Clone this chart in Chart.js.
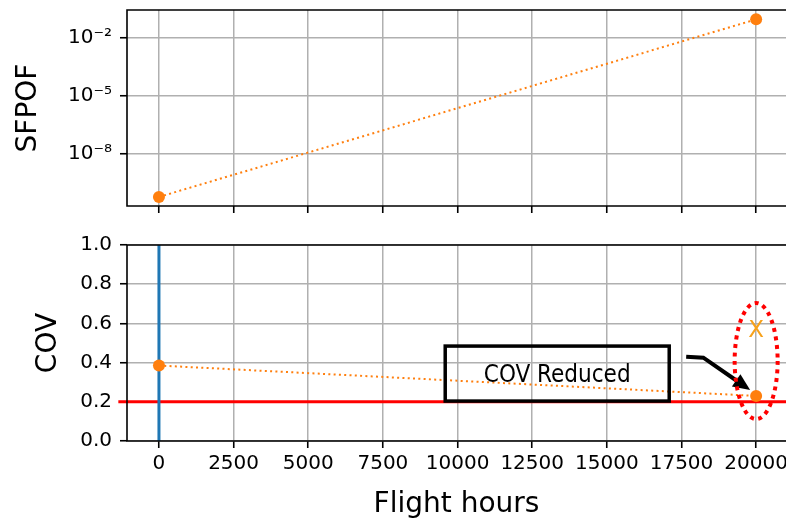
<!DOCTYPE html>
<html>
<head>
<meta charset="utf-8">
<script src="https://cdn.jsdelivr.net/npm/chart.js@4.4.0/dist/chart.umd.min.js"></script>
<style>
  html, body { margin: 0; padding: 0; background: #fff; }
  #wrap { position: relative; width: 786px; height: 522px; overflow: hidden; }
  canvas { position: absolute; left: 0; top: 0; }
</style>
</head>
<body>
<div id="wrap">
  <canvas id="sfpofChart" width="786" height="522"></canvas>
  <canvas id="covChart" width="786" height="522"></canvas>
</div>
<script>
// ---- data ----
const hours = [0, 20000];
const sfpof = [5.8e-11, 8.9e-2];
const cov = [0.385, 0.23];
const covLimit = 0.2;
const inspectionHour = 0;
const updatedCov = 0.564;          // COV estimate marked with "X" at 20000 h
const hourTicks = [0, 2500, 5000, 7500, 10000, 12500, 15000, 17500, 20000];
const sfpofTicks = [1e-8, 1e-5, 1e-2];
const covTicks = [0, 0.2, 0.4, 0.6, 0.8, 1.0];

// annotation anchors (data units)
const noteAt = { x: 13338, y: 0.344 };
const arrowPath = [{ x: 17657, y: 0.430 }, { x: 18232, y: 0.425 }, { x: 19799, y: 0.260 }];
const ringAt = { x: 20000, y: 0.408, rx: 720, ry: 0.296 };

const ORANGE = '#ff7f0e';
const BLUE = '#1f77b4';
const GRID = '#b0b0b0';
const FONT = '"DejaVu Sans", sans-serif';

const SUP = { '-': '\u207B', '0': '\u2070', '1': '\u00B9', '2': '\u00B2', '3': '\u00B3',
  '4': '\u2074', '5': '\u2075', '6': '\u2076', '7': '\u2077', '8': '\u2078', '9': '\u2079' };
const powLabel = v => '10' + String(Math.round(Math.log10(v))).split('').map(c => SUP[c]).join('');

const xLo = -1070, xHi = 21000;

const frame = {
  id: 'frame',
  afterDraw(chart) {
    const { ctx, chartArea: a } = chart;
    ctx.save();
    ctx.strokeStyle = '#000';
    ctx.lineWidth = 1.6;
    ctx.beginPath();
    ctx.moveTo(a.right + 2, a.top);
    ctx.lineTo(a.left, a.top);
    ctx.lineTo(a.left, a.bottom);
    ctx.lineTo(a.right + 2, a.bottom);
    ctx.stroke();
    ctx.restore();
  }
};

function gridOpts() {
  return { color: GRID, lineWidth: 1.5, tickColor: '#000', tickWidth: 1.6, tickLength: 7 };
}

function xAxis(showLabels, height) {
  return {
    type: 'linear', min: xLo, max: xHi,
    grid: gridOpts(),
    border: { display: false },
    afterBuildTicks: s => { s.ticks = hourTicks.map(v => ({ value: v })); },
    afterFit: s => { s.height = height; s.paddingLeft = 0; s.paddingRight = 0; },
    ticks: { display: showLabels, color: '#000', padding: 4, maxRotation: 0,
      font: { family: FONT, size: 20 }, callback: v => String(v) },
    title: showLabels ? { display: true, text: 'Flight hours', color: '#000',
      font: { family: FONT, size: 28 }, padding: { top: 0, bottom: 0 } } : { display: false }
  };
}

function yTitle(text, pad) {
  return { display: true, text, color: '#000', font: { family: FONT, size: 28 }, padding: { top: pad, bottom: 0 } };
}

// ---- top panel: SFPOF (log scale) ----
new Chart(document.getElementById('sfpofChart'), {
  type: 'scatter',
  data: {
    datasets: [{
      data: hours.map((h, i) => ({ x: h, y: sfpof[i] })),
      showLine: true, borderColor: ORANGE, backgroundColor: ORANGE,
      borderWidth: 2, borderDash: [2, 3.3], pointRadius: 6, pointBorderWidth: 0
    }]
  },
  options: {
    responsive: false, animation: false,
    layout: { autoPadding: false, padding: { top: 10, left: 0, right: 0, bottom: 0 } },
    plugins: { legend: { display: false }, tooltip: { enabled: false } },
    scales: {
      x: xAxis(false, 522 - 206),
      y: {
        type: 'logarithmic', min: Math.pow(10, -10.705), max: Math.pow(10, -0.567),
        grid: gridOpts(), border: { display: false },
        afterBuildTicks: s => { s.ticks = sfpofTicks.map(v => ({ value: v })); },
        afterFit: s => { s.width = 127; s.paddingTop = 0; s.paddingBottom = 0; },
        ticks: { color: '#000', padding: 8, font: { family: FONT, size: 20 }, callback: v => powLabel(v) },
        title: yTitle('SFPOF', 12)
      }
    }
  },
  plugins: [frame]
});

// ---- bottom panel: COV ----
const notes = {
  id: 'notes',
  afterDatasetsDraw(chart) {
    const { ctx, scales: { x, y } } = chart;
    ctx.save();

    // callout box with text
    const bx = x.getPixelForValue(noteAt.x), by = y.getPixelForValue(noteAt.y);
    ctx.lineWidth = 3.5;
    ctx.strokeStyle = '#000';
    ctx.strokeRect(bx - 112, by - 27.5, 224, 55);
    ctx.fillStyle = '#000';
    ctx.font = '24px "DejaVu Sans Condensed", "DejaVu Sans", sans-serif';
    ctx.textAlign = 'center';
    ctx.textBaseline = 'middle';
    ctx.fillText('COV Reduced', bx, by + 2);

    // bent arrow toward the reduced COV point
    const pts = arrowPath.map(p => [x.getPixelForValue(p.x), y.getPixelForValue(p.y)]);
    const [tx, ty] = pts[2], [qx, qy] = pts[1];
    const len = Math.hypot(tx - qx, ty - qy), ux = (tx - qx) / len, uy = (ty - qy) / len;
    const headL = 17, headW = 7.5;
    const baseX = tx - ux * headL, baseY = ty - uy * headL;
    ctx.lineWidth = 4;
    ctx.lineJoin = 'miter';
    ctx.beginPath();
    ctx.moveTo(pts[0][0], pts[0][1]);
    ctx.lineTo(qx, qy);
    ctx.lineTo(baseX + ux * 2, baseY + uy * 2);
    ctx.stroke();
    ctx.beginPath();
    ctx.moveTo(tx, ty);
    ctx.lineTo(baseX - uy * headW, baseY + ux * headW);
    ctx.lineTo(baseX + uy * headW, baseY - ux * headW);
    ctx.closePath();
    ctx.fill();

    // dotted ring around the 20000 h estimates
    const ex = x.getPixelForValue(ringAt.x), ey = y.getPixelForValue(ringAt.y);
    const rx = Math.abs(x.getPixelForValue(ringAt.x + ringAt.rx) - ex);
    const ry = Math.abs(y.getPixelForValue(ringAt.y + ringAt.ry) - ey);
    ctx.beginPath();
    ctx.ellipse(ex, ey, rx, ry, 0, 0, Math.PI * 2);
    ctx.setLineDash([4, 4.5]);
    ctx.lineWidth = 4;
    ctx.lineCap = 'butt';
    ctx.strokeStyle = '#ff0000';
    ctx.stroke();
    ctx.setLineDash([]);

    // "X" marker for the updated COV
    ctx.fillStyle = '#f7a11a';
    ctx.font = '23px "DejaVu Sans", sans-serif';
    ctx.fillText('X', x.getPixelForValue(hours[1]), y.getPixelForValue(updatedCov) + 1);

    ctx.restore();
  }
};

new Chart(document.getElementById('covChart'), {
  type: 'scatter',
  data: {
    datasets: [
      {
        data: hours.map((h, i) => ({ x: h, y: cov[i] })),
        showLine: true, borderColor: ORANGE, backgroundColor: ORANGE,
        borderWidth: 2, borderDash: [2, 3.3], pointRadius: 6, pointBorderWidth: 0
      },
      {
        data: [{ x: inspectionHour, y: 0 }, { x: inspectionHour, y: 1 }],
        showLine: true, borderColor: BLUE, borderWidth: 3, pointRadius: 0
      },
      {
        data: [{ x: -1360, y: covLimit }, { x: xHi, y: covLimit }],
        showLine: true, borderColor: '#ff0000', borderWidth: 3, pointRadius: 0, clip: false
      }
    ]
  },
  options: {
    responsive: false, animation: false,
    layout: { autoPadding: false, padding: { top: 245, left: 0, right: 0, bottom: 0 } },
    plugins: { legend: { display: false }, tooltip: { enabled: false } },
    scales: {
      x: xAxis(true, 522 - 441),
      y: {
        type: 'linear', min: 0, max: 1,
        grid: gridOpts(), border: { display: false },
        afterBuildTicks: s => { s.ticks = covTicks.map(v => ({ value: v })); },
        afterFit: s => { s.width = 127; s.paddingTop = 0; s.paddingBottom = 0; },
        ticks: { color: '#000', padding: 8, font: { family: FONT, size: 20 }, callback: v => v.toFixed(1) },
        title: yTitle('COV', 32)
      }
    }
  },
  plugins: [frame, notes]
});
</script>
</body>
</html>
